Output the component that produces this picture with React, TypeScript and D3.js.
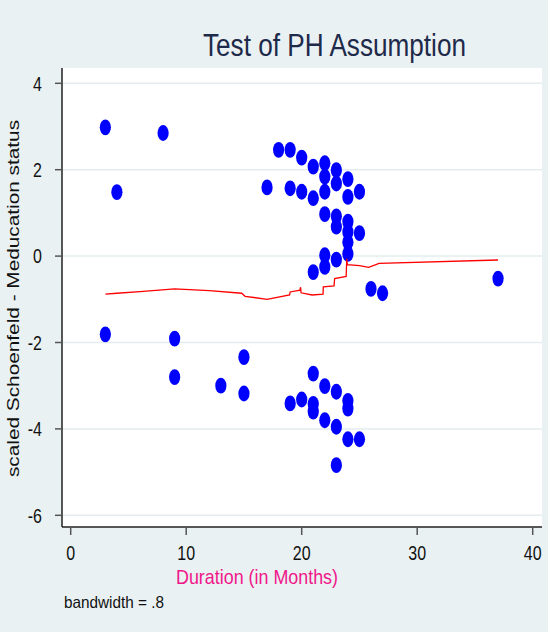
import React from "react";
import * as d3 from "d3";

const durations = [
  3, 4, 8,
  3, 9, 9, 13, 15, 15,
  18, 19, 20, 21, 22, 23, 24,
  17, 19, 20, 21, 22, 22, 23, 24, 25,
  22, 23, 23, 24, 24, 24, 25,
  22, 22, 23, 24, 21,
  21, 22, 23, 24, 24, 19, 20, 21, 21, 22, 23, 24, 25, 23,
  26, 27, 37,
];
const residuals = [
  2.98, 1.48, 2.85,
  -1.81, -1.91, -2.8, -3.0, -2.34, -3.18,
  2.46, 2.46, 2.28, 2.07, 2.15, 1.99, 1.78,
  1.59, 1.57, 1.49, 1.34, 1.84, 1.49, 1.68, 1.37, 1.49,
  0.97, 0.92, 0.68, 0.8, 0.56, 0.32, 0.53,
  0.02, -0.25, -0.08, 0.05, -0.37,
  -2.72, -3.01, -3.14, -3.35, -3.53, -3.41, -3.32, -3.42, -3.6, -3.8, -3.95, -4.24, -4.24, -4.84,
  -0.76, -0.86, -0.52,
];

const smoothX = [3, 4, 6, 9, 12, 14.8, 15.1, 17, 18.95, 19, 19.85, 19.9, 19.95, 20.9, 21.85, 21.87, 22.8, 22.85, 23.85, 23.9, 23.95, 25, 25.8, 26.7, 37];
const smoothY = [-0.88, -0.86, -0.82, -0.76, -0.8, -0.86, -0.93, -1.0, -0.9, -0.83, -0.79, -0.72, -0.85, -0.9, -0.88, -0.71, -0.69, -0.52, -0.47, -0.06, -0.2, -0.22, -0.26, -0.17, -0.09];

const xTicks = [0, 10, 20, 30, 40];
const yTicks = [4, 2, 0, -2, -4, -6];

const titleText = "Test of PH Assumption";
const xLabel = "Duration (in Months)";
const yLabel = "scaled Schoenfeld - Meducation status";
const noteText = "bandwidth = .8";

const W = 548;
const H = 632;
const FONT = "'Liberation Sans', Arial, sans-serif";

export default function App() {
  const x = d3.scaleLinear().domain([0, 40]).range([70.7, 532.7]);
  const y = d3.scaleLinear().domain([-6, 4]).range([515.3, 83.3]);
  const plot = { left: 62, right: 542, top: 68, bottom: 527 };
  const line = d3
    .line<number>()
    .x((_, i) => x(smoothX[i]))
    .y((_, i) => y(smoothY[i]));
  const sx = 0.78;

  return (
    <svg
      width={W}
      height={H}
      style={{ position: "absolute", left: 0, top: 0 }}
      fontFamily={FONT}
    >
      <rect x={0} y={0} width={W} height={H} fill="#EAF1F3" />
      <rect
        x={plot.left}
        y={plot.top}
        width={plot.right - plot.left}
        height={plot.bottom - plot.top}
        fill="#FFFFFF"
      />
      {yTicks.map((t) => (
        <line
          key={"g" + t}
          x1={plot.left}
          x2={plot.right}
          y1={y(t)}
          y2={y(t)}
          stroke="#E3ECEE"
          strokeWidth={1.5}
        />
      ))}
      {/* axes */}
      <line x1={plot.left} x2={plot.left} y1={plot.top} y2={plot.bottom} stroke="#222" strokeWidth={1.5} />
      <line x1={plot.left} x2={plot.right} y1={plot.bottom} y2={plot.bottom} stroke="#222" strokeWidth={1.5} />
      {yTicks.map((t) => (
        <g key={"yt" + t}>
          <line x1={55} x2={plot.left} y1={y(t)} y2={y(t)} stroke="#555" strokeWidth={1.5} />
          <g transform={`translate(42,${y(t) + 7.3}) scale(${sx},1)`}>
            <text fontSize={20.5} textAnchor="end" fill="#111">
              {t}
            </text>
          </g>
        </g>
      ))}
      {xTicks.map((t) => (
        <g key={"xt" + t}>
          <line x1={x(t)} x2={x(t)} y1={plot.bottom} y2={535} stroke="#555" strokeWidth={1.5} />
          <g transform={`translate(${x(t)},559.5) scale(${sx},1)`}>
            <text fontSize={20.5} textAnchor="middle" fill="#111">
              {t}
            </text>
          </g>
        </g>
      ))}
      {/* points */}
      {durations.map((d, i) => (
        <ellipse key={"p" + i} cx={x(d)} cy={y(residuals[i])} rx={5.6} ry={7.9} fill="#0000FF" />
      ))}
      {/* smooth line */}
      <path d={line(smoothX) || ""} fill="none" stroke="#FF0000" strokeWidth={1.3} />
      {/* title */}
      <text
        x={203}
        y={56}
        fontSize={31}
        fill="#1E2A4A"
        textLength={263}
        lengthAdjust="spacingAndGlyphs"
      >
        {titleText}
      </text>
      {/* x label */}
      <text
        x={176}
        y={583.5}
        fontSize={20.3}
        fill="#F0168A"
        textLength={162}
        lengthAdjust="spacingAndGlyphs"
      >
        {xLabel}
      </text>
      {/* y label */}
      <g transform={`translate(19,298.5) scale(${sx},1) rotate(-90)`}>
        <text fontSize={20.8} textAnchor="middle" fill="#111">
          {yLabel}
        </text>
      </g>
      {/* note */}
      <text
        x={64}
        y={608}
        fontSize={16.5}
        fill="#111"
        textLength={100}
        lengthAdjust="spacingAndGlyphs"
      >
        {noteText}
      </text>
    </svg>
  );
}
